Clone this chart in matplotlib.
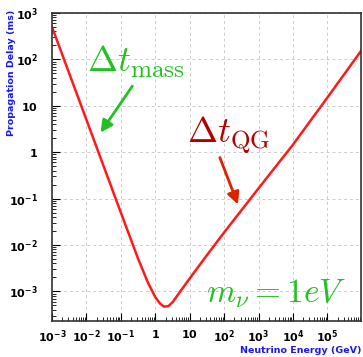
import matplotlib
matplotlib.use('Agg')
import matplotlib.pyplot as plt
import numpy as np

# values (GeV, ms)
energy = [1e-3, 3.16e-3, 1e-2, 3.16e-2, 0.1, 0.316, 0.6, 1.0, 1.4, 1.78, 2.4,
          3.16, 5.6, 10, 31.6, 100, 1e3, 1e4, 1e5, 1e6]
delay = [500, 50, 5.0, 0.5, 0.05, 5.1e-3, 1.6e-3, 7.5e-4, 5.4e-4, 4.7e-4, 4.8e-4,
         5.8e-4, 1.05e-3, 1.9e-3, 6.0e-3, 1.86e-2, 0.166, 1.45, 15, 160]

xticks = [1e-3, 1e-2, 1e-1, 1, 10, 1e2, 1e3, 1e4, 1e5]
xticklabels = [r'$\mathbf{10^{-3}}$', r'$\mathbf{10^{-2}}$', r'$\mathbf{10^{-1}}$',
               r'$\mathbf{1}$', r'$\mathbf{10}$', r'$\mathbf{10^{2}}$',
               r'$\mathbf{10^{3}}$', r'$\mathbf{10^{4}}$', r'$\mathbf{10^{5}}$']
yticks = [1e-3, 1e-2, 1e-1, 1, 10, 1e2, 1e3]
yticklabels = [r'$\mathbf{10^{-3}}$', r'$\mathbf{10^{-2}}$', r'$\mathbf{10^{-1}}$',
               r'$\mathbf{1}$', r'$\mathbf{10}$', r'$\mathbf{10^{2}}$',
               r'$\mathbf{10^{3}}$']


def main():
    fig = plt.figure(figsize=(3.63, 3.57), dpi=100)
    ax = fig.add_axes([52 / 363, 36 / 357, 309 / 363, 308 / 357])

    ax.plot(energy, delay, color='#ff1a1a', lw=1.8)
    ax.set_xscale('log')
    ax.set_yscale('log')
    ax.set_xlim(1e-3, 9.5e5)
    ax.set_ylim(2.3e-4, 1e3)

    ax.set_xticks(xticks)
    ax.set_xticklabels(xticklabels)
    ax.set_yticks(yticks)
    ax.set_yticklabels(yticklabels)
    ax.tick_params(which='both', direction='in', top=False, right=False,
                   labelsize=8)
    ax.tick_params(axis='x', pad=5)
    ax.tick_params(axis='y', pad=10)
    ax.tick_params(which='major', length=6)
    ax.tick_params(which='minor', length=3)
    ax.grid(True, which='major', ls=(0, (3, 3)), color='#cccccc', lw=0.7)
    for s in ax.spines.values():
        s.set_color('#333333')
        s.set_linewidth(1.2)

    ax.set_xlabel('Neutrino Energy (GeV)', color='#1a1aee', fontweight='bold',
                  fontsize=6.8, ha='right', va='bottom')
    ax.xaxis.set_label_coords(1.0, -0.112)
    ax.set_ylabel('Propagation Delay (ms)', color='#1a1aee', fontweight='bold',
                  fontsize=6.8, ha='right', va='center')
    ax.yaxis.set_label_coords(-0.13, 1.01)

    ax.text(0.113, 0.81, r'$\Delta t_{\rm mass}$', transform=ax.transAxes,
            fontsize=26, color='#22c022', math_fontfamily='cm')
    ax.annotate('', xy=(0.152, 0.604), xytext=(0.265, 0.77),
                xycoords='axes fraction',
                arrowprops=dict(arrowstyle='-|>', color='#22c022', lw=2,
                                mutation_scale=18))
    ax.text(0.437, 0.58, r'$\Delta t_{\rm QG}$', transform=ax.transAxes,
            fontsize=26, color='#b00000', math_fontfamily='cm')
    ax.annotate('', xy=(0.605, 0.37), xytext=(0.54, 0.539),
                xycoords='axes fraction',
                arrowprops=dict(arrowstyle='-|>', color='#dd2200', lw=2,
                                mutation_scale=18))
    ax.text(0.498, 0.062, r'$m_\nu = 1eV$', transform=ax.transAxes,
            fontsize=24, color='#22c022', math_fontfamily='cm')

    fig.savefig('out.png', dpi=100)


if __name__ == '__main__':
    main()
